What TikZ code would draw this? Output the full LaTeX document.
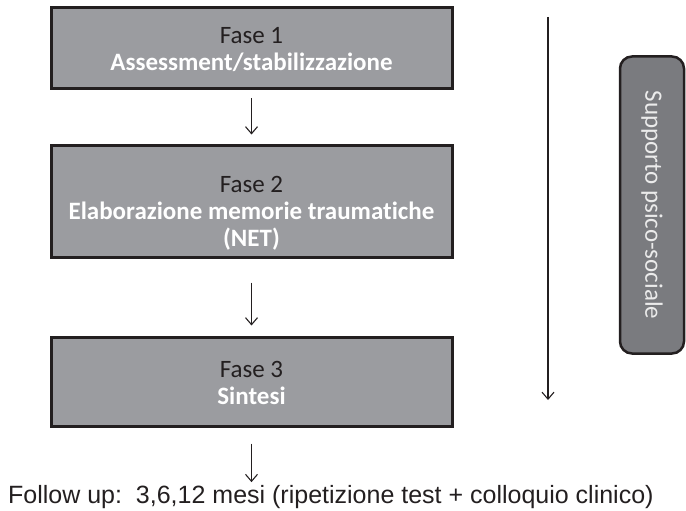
\documentclass[tikz,border=0pt]{standalone}
\usepackage{fontspec}
\setmainfont{Carlito}[Ligatures=NoCommon]
\newfontfamily\arialfont{Liberation Sans}
\usetikzlibrary{arrows.meta}
\definecolor{boxfill}{RGB}{155,156,160}
\definecolor{supfill}{RGB}{122,123,127}
\definecolor{edge}{RGB}{35,31,32}
\tikzset{
  phase/.style={draw=edge, line width=3pt, fill=boxfill, minimum width=401pt, inner sep=0pt},
  phasetext/.style={inner sep=0pt, align=center, font=\fontsize{25}{28}\selectfont, text=edge},
  conn/.style={draw=edge, line width=1.1pt, -{Straight Barb[length=7pt,width=12pt,line width=1.1pt]}},
}
\begin{document}
\begin{tikzpicture}[x=1pt,y=-1pt]
\useasboundingbox (0,0) rectangle (686,511);
\node[phase, minimum height=81pt] (f1) at (251.5,48.5) {};
\node[phasetext] (t1) at (251.5,50) {Fase 1\\[-1pt]\textcolor{white}{\bfseries Assessment/stabilizzazione}};
\node[phase, minimum height=112pt] (f2) at (251.5,201) {};
\node[phasetext] (t2) at (251.5,213) {Fase 2\\[-1pt]\textcolor{white}{\bfseries Elaborazione memorie traumatiche}\\[-1pt]\textcolor{white}{\bfseries (NET)}};
\node[phase, minimum height=89pt] (f3) at (251.5,381.5) {};
\node[phasetext] (t3) at (251.5,383) {Fase 3\\[-1pt]\textcolor{white}{\bfseries Sintesi}};
\node[inner sep=0pt, anchor=west, font=\arialfont\fontsize{25}{28}\selectfont, text=edge] (fu) at (8,497) {Follow up:\ \ 3,6,12 mesi (ripetizione test + colloquio clinico)};
\draw[conn, shorten <=8pt, shorten >=9pt] (f1.south) -- (f2.north);
\draw[conn, shorten <=24pt, shorten >=10pt] (f2.south) -- (f2.south |- f3.north);
\draw[conn, shorten <=16pt, shorten >=3pt] (f3.south) -- (f3.south |- fu.north);
\coordinate (ltop) at (548,17);
\coordinate (lbot) at (548,400);
\draw[conn] (ltop) -- (lbot);
\node[draw=edge, line width=2.5pt, fill=supfill, rounded corners=12pt, rotate=-90, minimum width=297pt, minimum height=64pt, inner sep=0pt, text=white!92!black, font=\fontsize{25}{28}\selectfont] (sup) at (652,205) {Supporto psico-sociale};
\end{tikzpicture}
\end{document}
